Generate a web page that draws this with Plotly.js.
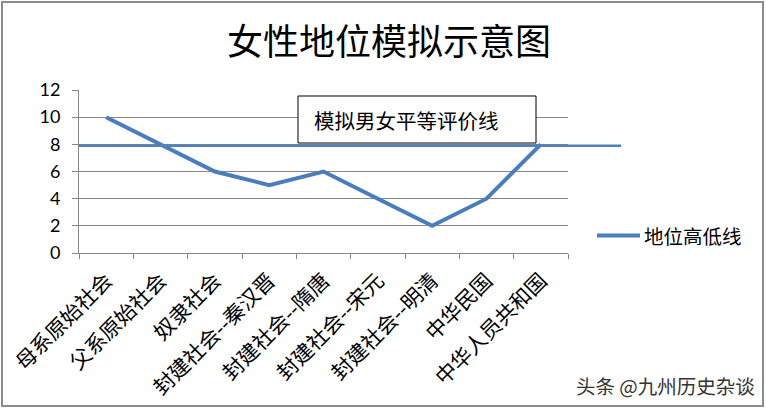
<!DOCTYPE html>
<html>
<head>
<meta charset="utf-8">
<script src="https://cdn.plot.ly/plotly-3.0.1.min.js"></script>
<style>
  html, body { margin: 0; padding: 0; background: #fff; }
  #wrap { position: relative; width: 766px; height: 408px; }
  #chart { width: 766px; height: 408px; }
  #frame { position: absolute; left: 1px; top: 1px; width: 759px; height: 402px;
           border: 2px solid #8c8c8c; pointer-events: none; }
</style>
</head>
<body>
<div id="wrap">
  <div id="chart"></div>
  <div id="frame"></div>
</div>
<script>
const categories = ["母系原始社会", "父系原始社会", "奴隶社会", "封建社会--秦汉晋", "封建社会--隋唐",
                    "封建社会--宋元", "封建社会--明清", "中华民国", "中华人员共和国"];
const statusValues = [10, 8, 6, 5, 6, 4, 2, 4, 8];
const seriesName = "地位高低线";
const equalityValue = 7.9;
const equalityLabel = "模拟男女平等评价线";
const chartTitle = "女性地位模拟示意图";
const watermark = "头条 @九州历史杂谈";

const cjk = '"Noto Sans CJK SC", "Noto Sans", sans-serif';
const lineBlue = '#4a7ebb';

const trace = {
  type: 'scatter', mode: 'lines',
  x: categories, y: statusValues, name: seriesName,
  line: { color: lineBlue, width: 4 }
};

// plot area: x 79..568, y 90..253
const px = v => (v - 79) / 489;
const py = v => (253 - v) / 163;

const layout = {
  width: 766, height: 408,
  margin: { l: 79, r: 198, t: 90, b: 155 },
  paper_bgcolor: '#fff', plot_bgcolor: '#fff',
  title: { text: chartTitle, xref: 'container', yref: 'container', x: 0.508, y: 0.897,
           xanchor: 'center', yanchor: 'middle', font: { family: cjk, size: 36, color: '#000' } },
  showlegend: false,
  xaxis: {
    type: 'category', range: [-0.5, 8.5], showgrid: false, zeroline: false,
    showline: true, linecolor: '#868686', linewidth: 1,
    ticks: 'outside', tickson: 'boundaries', ticklen: 5, tickcolor: '#868686',
    ticklabelstandoff: 6,
    tickangle: -45, tickfont: { family: cjk, size: 21, color: '#000' }
  },
  yaxis: {
    range: [0, 12], dtick: 2, tick0: 0, showgrid: true, gridcolor: '#868686', gridwidth: 1,
    zeroline: false, showline: true, linecolor: '#868686', linewidth: 1,
    ticks: 'outside', ticklen: 6, tickcolor: '#868686', ticklabelstandoff: 8,
    tickfont: { family: 'Lato, "Liberation Sans", sans-serif', size: 18, color: '#000' }
  },
  shapes: [
    { type: 'line', xref: 'paper', yref: 'y', x0: 0, x1: px(621), y0: equalityValue, y1: equalityValue,
      line: { color: '#4f81bd', width: 2.5 } },
    { type: 'rect', xref: 'paper', yref: 'paper', x0: px(298), x1: px(536), y0: py(143), y1: py(96),
      line: { color: '#000', width: 1 }, fillcolor: '#fff' },
    { type: 'line', xref: 'paper', yref: 'paper', x0: px(597), x1: px(640), y0: py(235.5), y1: py(235.5),
      line: { color: lineBlue, width: 4 } }
  ],
  annotations: [
    { text: equalityLabel, xref: 'paper', yref: 'paper', x: px(312), y: py(120),
      xanchor: 'left', yanchor: 'middle', showarrow: false,
      font: { family: cjk, size: 20.5, color: '#000' } },
    { text: seriesName, xref: 'paper', yref: 'paper', x: px(642), y: py(235),
      xanchor: 'left', yanchor: 'middle', showarrow: false,
      font: { family: cjk, size: 19.5, color: '#000' } },
    { text: watermark, xref: 'paper', yref: 'paper', x: px(757), y: py(385),
      xanchor: 'right', yanchor: 'middle', showarrow: false,
      font: { family: cjk, size: 19.5, color: '#333' } }
  ]
};

Plotly.newPlot('chart', [trace], layout, { displayModeBar: false, staticPlot: true });
</script>
</body>
</html>
